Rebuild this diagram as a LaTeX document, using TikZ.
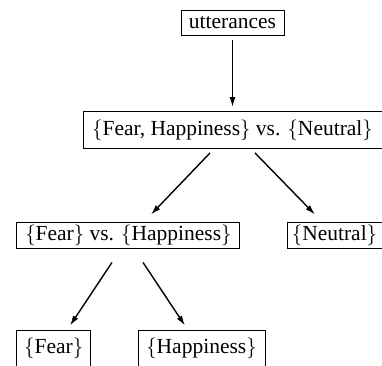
\documentclass[tikz,border=0pt]{standalone}
\usepackage{fontspec}
\setmainfont{Liberation Serif}
\usetikzlibrary{arrows.meta,calc}
\tikzset{
  classbox/.style={draw, line width=0.9pt, inner sep=0pt, font=\fontsize{21.5}{25}\selectfont},
  split/.style={-{Latex[length=10pt,width=6pt]}, line width=1.4pt},
}
\begin{document}
\begin{tikzpicture}[x=1pt,y=-1pt]
  \useasboundingbox (0,0) rectangle (382,365);
  % classifier tree
  \node[classbox, minimum width=103pt, minimum height=25pt] (utt) at (232.5,22.5) {utterances};
  \node[classbox, minimum width=299pt, minimum height=37pt] (fhn) at (232.5,130) {$\{$Fear, Happiness$\}$ vs. $\{$Neutral$\}$};
  \node[classbox, minimum width=223pt, minimum height=26pt] (fh) at (128.4,235) {$\{$Fear$\}$ vs. $\{$Happiness$\}$};
  \node[classbox, minimum width=95pt, minimum height=26pt] (neu) at (334.5,235) {$\{$Neutral$\}$};
  \node[classbox, minimum width=74pt, minimum height=36pt] (fear) at (53.7,348) {$\{$Fear$\}$};
  \node[classbox, minimum width=127pt, minimum height=36pt] (hap) at (201.5,348) {$\{$Happiness$\}$};

  \draw[split] ($(utt.south)+(0,5)$) -- ($(fhn.north)+(0,-4)$);
  \draw[split] ($(fhn.south)+(-22.5,4)$) -- ($(fh.north)+(22.6,-7)$);
  \draw[split] ($(fhn.south)+(22.5,4)$) -- ($(neu.north)+(-19.5,-7)$);
  \draw[split] ($(fh.south)+(-16.4,14)$) -- ($(fear.north)+(16.3,-4)$);
  \draw[split] ($(fh.south)+(14.6,14)$) -- ($(hap.north)+(-16.5,-4)$);
\end{tikzpicture}
\end{document}
